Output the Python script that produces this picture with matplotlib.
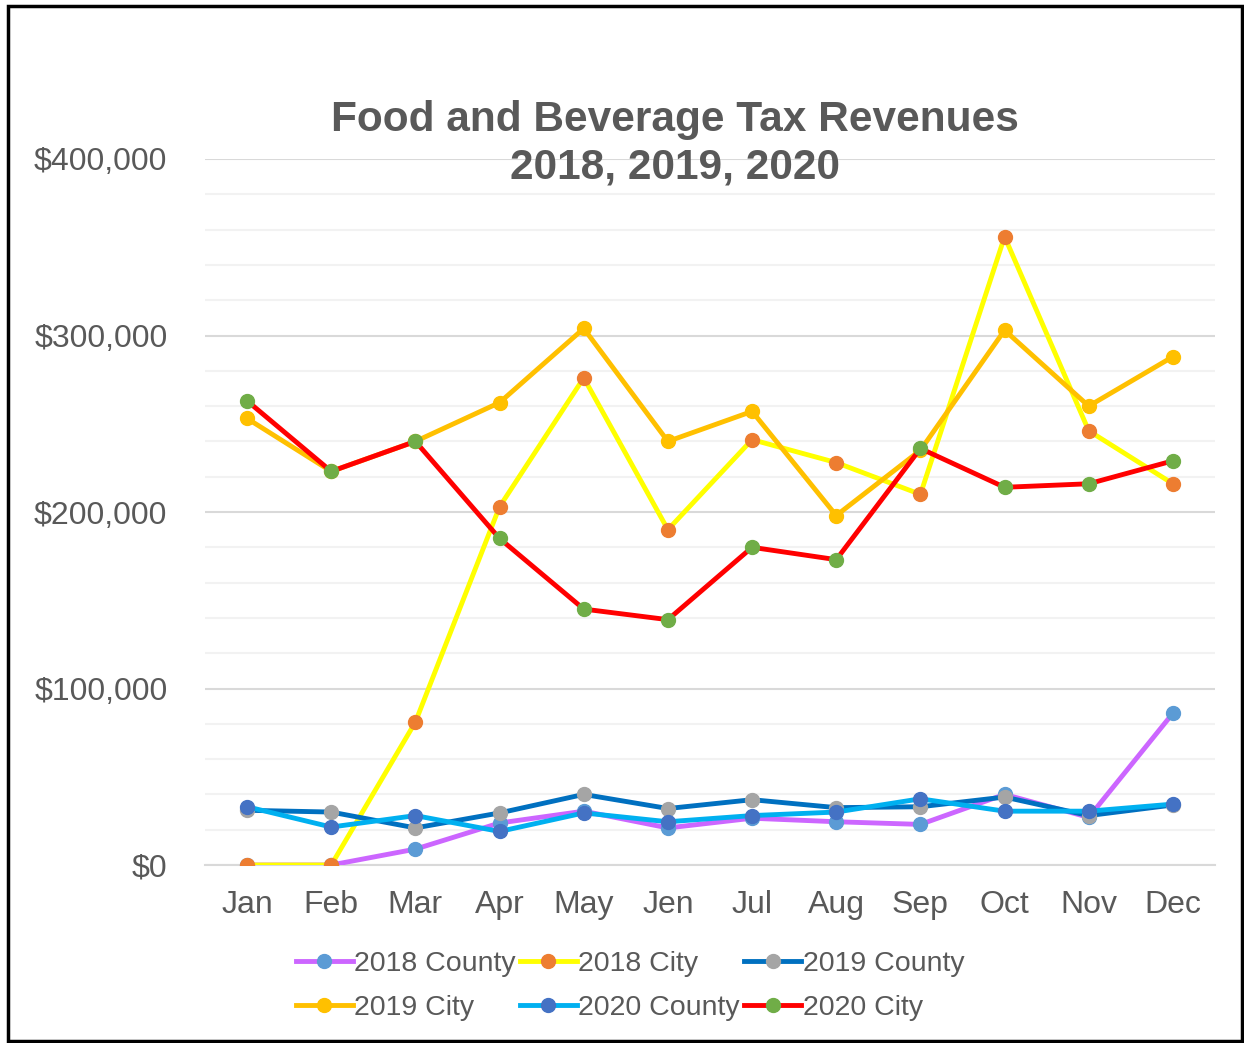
import matplotlib.pyplot as plt
from matplotlib.patches import Rectangle
from matplotlib.ticker import MultipleLocator, FuncFormatter

plt.rcParams['font.family'] = ['Liberation Sans', 'DejaVu Sans']

months = ['Jan', 'Feb', 'Mar', 'Apr', 'May', 'Jen', 'Jul', 'Aug', 'Sep', 'Oct', 'Nov', 'Dec']

county_2018 = [0, 0, 9000, 23800, 30500, 21000, 26500, 24500, 23000, 40000, 27000, 86000]
city_2018 = [0, 0, 81000, 203000, 276000, 190000, 241000, 228000, 210000, 356000, 246000, 216000]
county_2019 = [31000, 30000, 21000, 29500, 40000, 32000, 37000, 32500, 33000, 38500, 28000, 34000]
city_2019 = [253000, 223000, 240000, 262000, 304000, 240000, 257000, 198000, 235000, 303000, 260000, 288000]
county_2020 = [33000, 21500, 28000, 19000, 29500, 24500, 28000, 30000, 37500, 30500, 30500, 34500]
city_2020 = [263000, 223000, 240000, 185000, 145000, 139000, 180000, 173000, 236000, 214000, 216000, 229000]

series = [
    ('2018 County', county_2018, '#CC66FF', '#5B9BD5'),
    ('2018 City', city_2018, '#FFFF00', '#ED7D31'),
    ('2019 County', county_2019, '#0070C0', '#A5A5A5'),
    ('2019 City', city_2019, '#FFC000', '#FFC000'),
    ('2020 County', county_2020, '#00B0F0', '#4472C4'),
    ('2020 City', city_2020, '#FF0000', '#70AD47'),
]

fig = plt.figure(figsize=(12.44, 10.43), dpi=100)
ax = fig.add_axes([205 / 1244, 1 - 865 / 1043, 1010 / 1244, 706 / 1043])

x = list(range(len(months)))
handles = {}
for name, vals, lc, mc in series:
    h, = ax.plot(x, vals, color=lc, lw=3.5, marker='o', markersize=10,
                 markerfacecolor=mc, markeredgecolor=mc, label=name, zorder=3)
    handles[name] = h

ax.set_xlim(-0.5, 11.5)
ax.set_ylim(0, 400000)
ax.yaxis.set_major_locator(MultipleLocator(100000))
ax.yaxis.set_minor_locator(MultipleLocator(20000))
ax.yaxis.set_major_formatter(FuncFormatter(lambda v, p: '${:,.0f}'.format(v)))
ax.grid(which='major', axis='y', color='#D9D9D9', lw=1.5, zorder=0)
ax.grid(which='minor', axis='y', color='#F2F2F2', lw=1.5, zorder=0)
ax.set_xticks(x)
ax.set_xticklabels(months)
ax.tick_params(axis='both', which='both', length=0, labelsize=23, labelcolor='#595959')
ax.tick_params(axis='y', pad=27)
ax.tick_params(axis='x', pad=18)
for s in ['top', 'right', 'left']:
    ax.spines[s].set_visible(False)
ax.spines['bottom'].set_color('#D9D9D9')
ax.spines['bottom'].set_linewidth(1.5)
ax.set_axisbelow(True)

fig.text(675 / 1244, 1 - 144 / 1043, 'Food and Beverage Tax Revenues\n2018, 2019, 2020',
         ha='center', va='center', fontsize=30.5, fontweight='bold', color='#595959',
         linespacing=1.25)

order = ['2018 County', '2019 City', '2018 City', '2020 County', '2019 County', '2020 City']
fig.legend([handles[n] for n in order], order, ncol=3, loc='center',
           bbox_to_anchor=(630 / 1244, 1 - 986 / 1043), frameon=False,
           fontsize=20.5, labelcolor='#595959', handlelength=2.0, handletextpad=0.05,
           columnspacing=0.15, labelspacing=0.66)

fig.patches.append(Rectangle((8 / 1244, 1 - 1041 / 1043), 1234 / 1244, 1035 / 1043,
                             transform=fig.transFigure, fill=False, edgecolor='black',
                             lw=2.5))

fig.savefig('out.png', dpi=100)
